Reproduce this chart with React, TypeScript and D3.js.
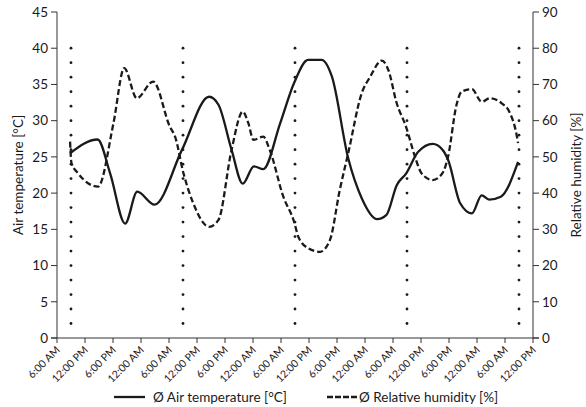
import React from "react";
import * as d3 from "d3";

const tickLabels = [
  "6:00 AM", "12:00 PM", "6:00 PM", "12:00 AM",
  "6:00 AM", "12:00 PM", "6:00 PM", "12:00 AM",
  "6:00 AM", "12:00 PM", "6:00 PM", "12:00 AM",
  "6:00 AM", "12:00 PM", "6:00 PM", "12:00 AM",
  "6:00 AM", "12:00 PM",
];

// hours since first 6:00 AM
const tempHours = [2.8, 8.7, 11.4, 14.6, 17.2, 20.9, 26.8, 32.6, 34.6, 37.4, 39.8, 42.2, 44.2, 47.8, 50.8, 53.8, 56.7, 58.9, 62.4, 65.3, 68.6, 70.6, 72.8, 74.8, 77.4, 80.5, 82.6, 83.8, 86.4, 88.9, 91.0, 92.6, 95.1, 98.8];
const tempValues = [25.5, 27.4, 22.7, 15.8, 20.2, 18.4, 26.0, 33.3, 32.2, 26.0, 21.3, 23.7, 23.3, 29.6, 35.2, 38.4, 38.4, 36.1, 24.8, 19.3, 16.4, 17.0, 21.1, 22.7, 25.7, 26.8, 26.0, 24.6, 18.6, 17.2, 19.7, 19.1, 19.5, 24.3];

const humHours = [2.8, 3.1, 4.5, 8.8, 12.1, 14.4, 17.1, 20.6, 24.2, 25.3, 27.1, 29.2, 32.6, 34.6, 37.4, 39.8, 41.0, 42.1, 44.2, 45.6, 48.5, 50.8, 51.7, 53.8, 56.4, 58.5, 60.6, 62.4, 65.3, 67.1, 69.6, 71.0, 72.8, 74.8, 76.7, 78.1, 80.5, 82.6, 83.8, 85.6, 86.7, 88.9, 91.0, 92.8, 95.3, 97.1, 98.5, 98.8];
const humValues = [54.2, 48.3, 45.5, 41.8, 59.3, 74.5, 66.2, 70.8, 58.3, 55.6, 45.5, 37.2, 30.7, 32.6, 51.9, 62.5, 59.3, 54.7, 55.6, 51.9, 39.0, 32.1, 28.0, 24.8, 23.8, 27.1, 40.9, 51.0, 67.6, 72.1, 76.6, 74.0, 64.8, 58.3, 50.1, 45.5, 43.6, 45.5, 50.1, 64.3, 68.0, 68.7, 65.2, 66.2, 64.8, 62.0, 56.0, 53.8];

const dotHours = [3, 27, 51, 75, 99];
const dotTemps = d3.range(2, 41, 2);

const leftTicks = [0, 5, 10, 15, 20, 25, 30, 35, 40, 45];
const rightTicks = [0, 10, 20, 30, 40, 50, 60, 70, 80, 90];

const W = 586, H = 407;
const L = 57, R = 533, T = 12, B = 338;
const FONT = "Lato, 'Open Sans', sans-serif";
const INK = "#1a1a1a";

export default function App() {
  const x = d3.scaleLinear().domain([0, 102]).range([L, R]);
  const yL = d3.scaleLinear().domain([0, 45]).range([B, T]);
  const yR = d3.scaleLinear().domain([0, 90]).range([B, T]);
  const cat = d3.scalePoint<number>().domain(d3.range(tickLabels.length)).range([L, R]);

  const tempLine = d3.line<number>()
    .x((_, i) => x(tempHours[i]))
    .y((d) => yL(d))
    .curve(d3.curveMonotoneX);
  const humLine = d3.line<number>()
    .x((_, i) => x(humHours[i]))
    .y((d) => yR(d))
    .curve(d3.curveMonotoneX);

  return (
    <svg width={W} height={H} style={{ position: "absolute", left: 0, top: 0, background: "#fff" }} fontFamily={FONT}>
      <rect width={W} height={H} fill="#fff" />
      {/* dotted vertical markers */}
      {dotHours.map((h) =>
        dotTemps.map((t) => (
          <circle key={h + "-" + t} cx={x(h)} cy={yL(t)} r={1.4} fill={INK} />
        ))
      )}
      {/* lines */}
      <path d={humLine(humValues) || ""} fill="none" stroke={INK} strokeWidth={2.3} strokeDasharray="6,3" />
      <path d={tempLine(tempValues) || ""} fill="none" stroke={INK} strokeWidth={2.3} />

      {/* axes */}
      <g stroke="#333" strokeWidth={1} fill="none">
        <line x1={L} x2={L} y1={T} y2={B} />
        <line x1={R} x2={R} y1={T} y2={B} />
        <line x1={L - 6} x2={R + 6} y1={B} y2={B} />
        {leftTicks.map((v) => (
          <line key={"lt" + v} x1={L - 6} x2={L} y1={yL(v)} y2={yL(v)} />
        ))}
        {rightTicks.map((v) => (
          <line key={"rt" + v} x1={R} x2={R + 6} y1={yR(v)} y2={yR(v)} />
        ))}
        {tickLabels.map((_, i) => (
          <line key={"bt" + i} x1={cat(i)} x2={cat(i)} y1={B} y2={B + 5} />
        ))}
      </g>
      <g fill={INK} fontSize={13.5}>
        {leftTicks.map((v) => (
          <text key={"ll" + v} x={L - 9} y={yL(v)} dy="0.35em" textAnchor="end">{v}</text>
        ))}
        {rightTicks.map((v) => (
          <text key={"rl" + v} x={R + 9} y={yR(v)} dy="0.35em" textAnchor="start">{v}</text>
        ))}
      </g>
      <g fill={INK} fontSize={10.5}>
        {tickLabels.map((lab, i) => (
          <text key={"xl" + i} transform={`translate(${(cat(i) as number) + 1},${B + 10}) rotate(-45)`} textAnchor="end" dy="0.35em">{lab}</text>
        ))}
      </g>
      <text transform={`translate(18,${(T + B) / 2}) rotate(-90)`} textAnchor="middle" dy="0.35em" fontSize={13.5} fill={INK}>Air temperature [°C]</text>
      <text transform={`translate(576,${(T + B) / 2}) rotate(-90)`} textAnchor="middle" dy="0.35em" fontSize={13.5} fill={INK}>Relative humidity [%]</text>

      {/* legend */}
      <line x1={114} x2={145} y1={397} y2={397} stroke={INK} strokeWidth={2.3} />
      <text x={153} y={397} dy="0.35em" fontSize={13.5} fill={INK}>Ø Air temperature [°C]</text>
      <line x1={327} x2={357} y1={397} y2={397} stroke={INK} strokeWidth={2.3} strokeDasharray="6,2" />
      <text x={359} y={397} dy="0.35em" fontSize={13.5} fill={INK}>Ø Relative humidity [%]</text>
    </svg>
  );
}
